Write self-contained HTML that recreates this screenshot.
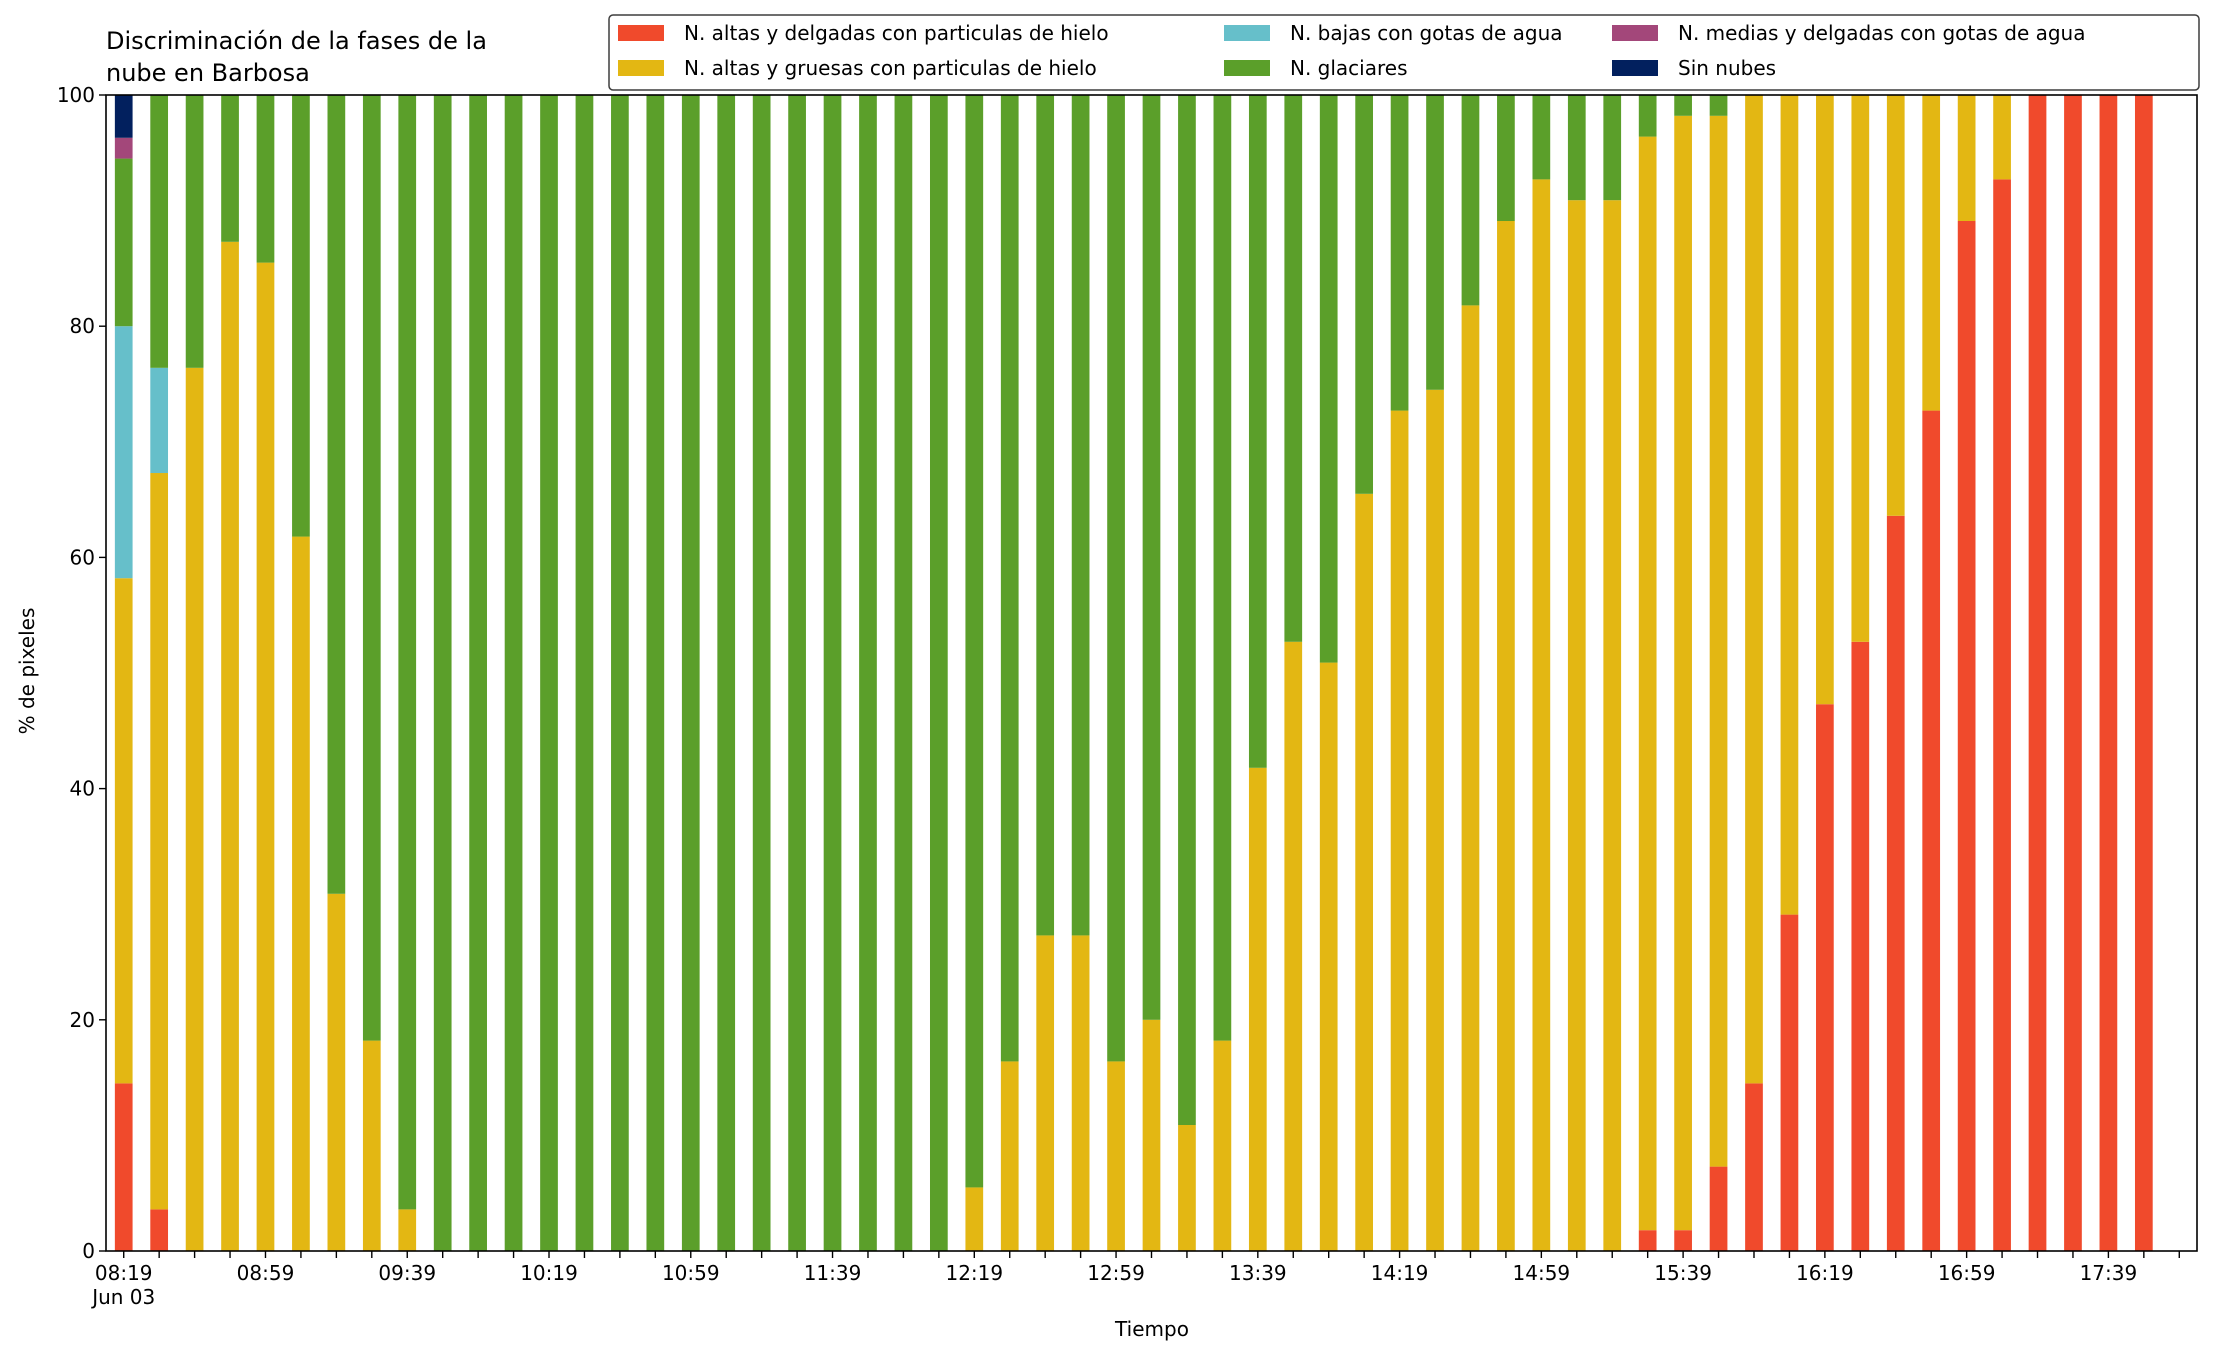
<!DOCTYPE html>
<html><head><meta charset="utf-8">
<style>
html,body{margin:0;padding:0;background:#fff;}
svg{display:block;font-family:"DejaVu Sans","Liberation Sans",sans-serif;}
</style></head>
<body>
<svg id="chart" width="2216" height="1355" viewBox="0 0 2216 1355" xmlns="http://www.w3.org/2000/svg">
<rect x="0" y="0" width="2216" height="1355" fill="#fff"/>
<text x="106" y="49" font-size="24" fill="#000">Discriminación de la fases de la</text>
<text x="106" y="81" font-size="24" fill="#000">nube en Barbosa</text>
<g id="plot"></g>
<g id="axes"></g>
<text transform="translate(34,671) rotate(-90)" text-anchor="middle" font-size="20">% de pixeles</text>
<text x="1152" y="1336" text-anchor="middle" font-size="20">Tiempo</text>
<g id="legend"></g>
</svg>
<script>
const NS="http://www.w3.org/2000/svg";
// start minutes of day for first bar 08:19, 10-min step
const startMinute = 499;
const stepMinutes = 10;
const seriesNames = ["N. altas y delgadas con particulas de hielo","N. altas y gruesas con particulas de hielo","N. bajas con gotas de agua","N. glaciares","N. medias y delgadas con gotas de agua","Sin nubes"];
const seriesColors = ["#f04a2c","#e3b713","#66bfca","#5b9f2a","#a3477a","#02205e"];
const redVals = [14.5,3.6,0,0,0,0,0,0,0, 0,0,0,0,0,0,0,0,0,0,0,0,0,0,0, 0,0,0,0,0,0,0,0,0,0,0,0,0,0,0,0,0,0,0, 1.8,1.8,7.3,14.5,29.1,47.3,52.7,63.6,72.7,89.1,92.7,100,100,100,100];
const yellowVals = [43.7,63.7,76.4,87.3,85.5,61.8,30.9,18.2,3.6, 0,0,0,0,0,0,0,0,0,0,0,0,0,0,0, 5.5,16.4,27.3,27.3,16.4,20,10.9,18.2,41.8,52.7,50.9,65.5,72.7,74.5,81.8,89.1,92.7,90.9,90.9, 94.6,96.4,90.9,85.5,70.9,52.7,47.3,36.4,27.3,10.9,7.3,0,0,0,0];
const cyanVals = [21.8,9.1,0,0,0,0,0,0,0, 0,0,0,0,0,0,0,0,0,0,0,0,0,0,0, 0,0,0,0,0,0,0,0,0,0,0,0,0,0,0,0,0,0,0, 0,0,0,0,0,0,0,0,0,0,0,0,0,0,0];
const greenVals = [14.5,23.6,23.6,12.7,14.5,38.2,69.1,81.8,96.4, 100,100,100,100,100,100,100,100,100,100,100,100,100,100,100, 94.5,83.6,72.7,72.7,83.6,80,89.1,81.8,58.2,47.3,49.1,34.5,27.3,25.5,18.2,10.9,7.3,9.1,9.1, 3.6,1.8,1.8,0,0,0,0,0,0,0,0,0,0,0,0];
const purpleVals = [1.8,0,0,0,0,0,0,0,0, 0,0,0,0,0,0,0,0,0,0,0,0,0,0,0, 0,0,0,0,0,0,0,0,0,0,0,0,0,0,0,0,0,0,0, 0,0,0,0,0,0,0,0,0,0,0,0,0,0,0];
const navyVals = [3.7,0,0,0,0,0,0,0,0, 0,0,0,0,0,0,0,0,0,0,0,0,0,0,0, 0,0,0,0,0,0,0,0,0,0,0,0,0,0,0,0,0,0,0, 0,0,0,0,0,0,0,0,0,0,0,0,0,0,0];
const yTicks = [0,20,40,60,80,100];
const xTickLabels = ["08:19","08:59","09:39","10:19","10:59","11:39","12:19","12:59","13:39","14:19","14:59","15:39","16:19","16:59","17:39"];

const L=106,R=2197,T=95,B=1251;
const xMin=494, xMax=1084;
const x = m => L + (m - xMin)/(xMax - xMin)*(R-L);
const y = v => B - v/100*(B-T);
const plot=document.getElementById('plot');
const axes=document.getElementById('axes');
function mk(tag,attrs,parent){const e=document.createElementNS(NS,tag);for(const k in attrs)e.setAttribute(k,attrs[k]);parent.appendChild(e);return e;}
const allSeries=[redVals,yellowVals,cyanVals,greenVals,purpleVals,navyVals];
const barW=(x(stepMinutes*0.5)-x(0));
const n=redVals.length;
for(let i=0;i<n;i++){
  const m=startMinute+i*stepMinutes;
  let base=0;
  for(let s=0;s<allSeries.length;s++){
    const v=allSeries[s][i];
    if(v<=0) continue;
    const r=mk('rect',{x:x(m)-barW/2,y:y(base+v),width:barW,height:y(base)-y(base+v),fill:seriesColors[s]},plot);
    
    
    base+=v;
  }
}
// axes frame
const frame=mk('rect',{x:L,y:T,width:R-L,height:B-T,fill:'none',stroke:'#000','stroke-width':1.6},axes);


yTicks.forEach(t=>{
  mk('line',{x1:L-7,x2:L,y1:y(t),y2:y(t),stroke:'#000','stroke-width':1.4},axes);
  const tx=mk('text',{x:L-11,y:y(t)+7,'text-anchor':'end','font-size':20},axes);
  tx.textContent=t;
  
  
});
for(let m=startMinute;m<xMax;m+=stepMinutes){
  mk('line',{x1:x(m),x2:x(m),y1:B,y2:B+7,stroke:'#000','stroke-width':1.4},axes);
}
xTickLabels.forEach(lbl=>{
  const p=lbl.split(':');const m=+p[0]*60+ +p[1];
  const tx=mk('text',{x:x(m),y:B+29,'text-anchor':'middle','font-size':20},axes);
  tx.textContent=lbl;
  
  
});
const dl=mk('text',{x:x(startMinute),y:B+53,'text-anchor':'middle','font-size':20},axes);
dl.textContent='Jun 03';


// legend
const lg=document.getElementById('legend');
const box=mk('rect',{x:609,y:15,width:1590,height:75,rx:4,fill:'#fff',stroke:'#333','stroke-width':1.5,opacity:0.95},lg);


const colX=[618,1224,1612];
const rowY=[33,68];
const order=[[0,1],[2,3],[4,5]];
order.forEach((col,ci)=>col.forEach((si,ri)=>{
  const g=mk('g',{},lg);
  
  
  mk('rect',{x:colX[ci],y:rowY[ri]-8,width:46,height:16,fill:seriesColors[si]},g);
  const t=mk('text',{x:colX[ci]+66,y:rowY[ri]+7,'font-size':20},g);
  t.textContent=seriesNames[si];
}));
</script>
</body></html>
